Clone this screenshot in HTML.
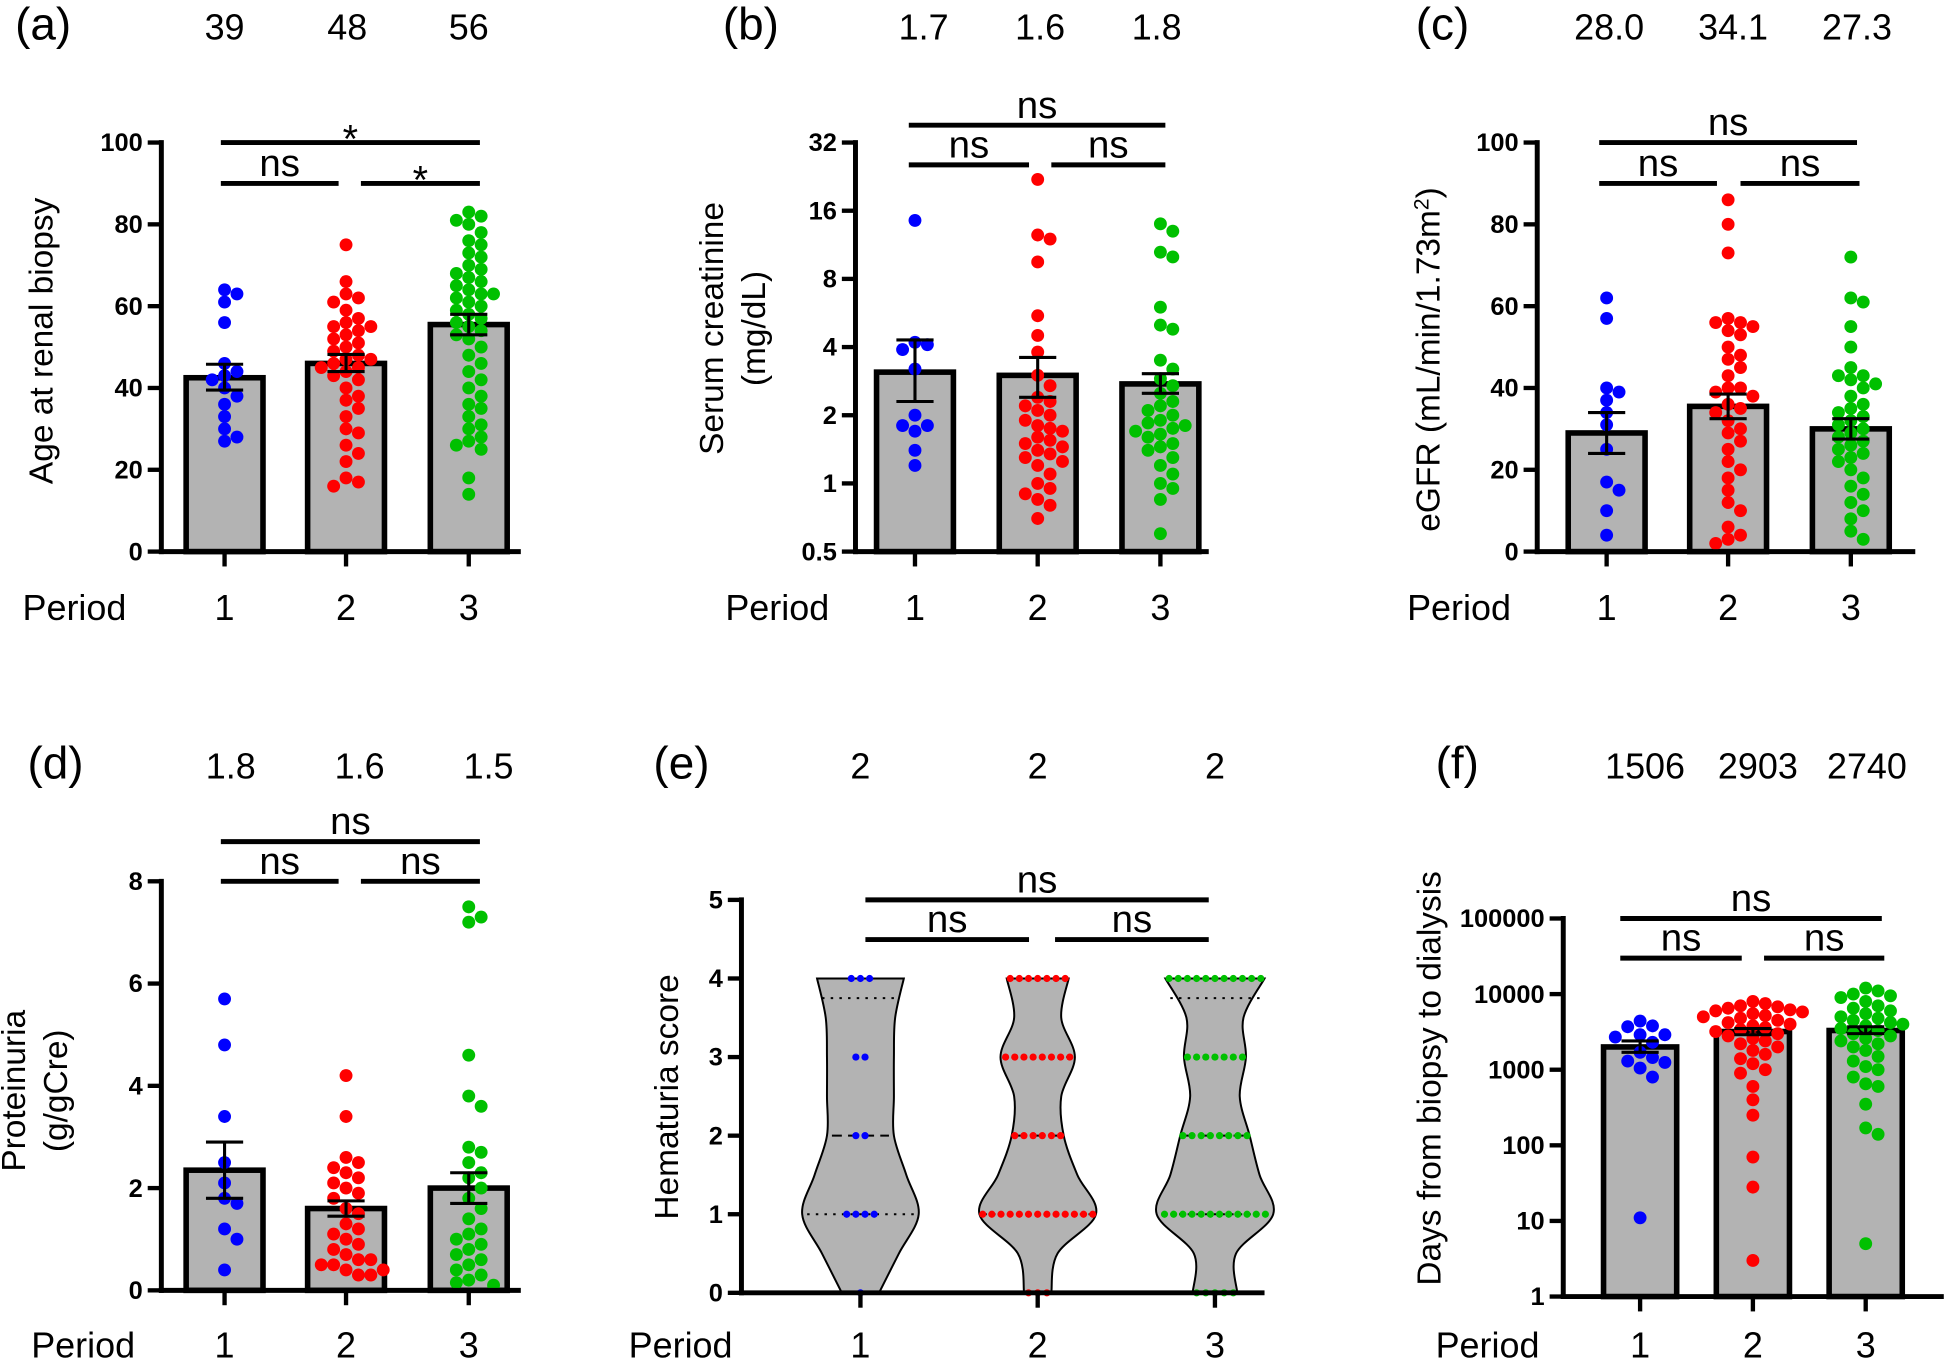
<!DOCTYPE html>
<html><head><meta charset="utf-8">
<style>
html,body{margin:0;padding:0;background:#fff;}
svg{display:block;font-family:"Liberation Sans",sans-serif;}
</style></head>
<body>
<svg id="fig" width="1944" height="1361" viewBox="0 0 1568 1098" xmlns="http://www.w3.org/2000/svg"></svg>
<script>
// ---------- data ----------
const periods = ["1","2","3"];
// (a) age
const ageTop = ["39","48","56"];
const ageP1 = [64,63,61,56,46,44,43,42,40,38,36,33,30,28,27];
const ageP2 = [75,66,63,62,61,59,57,56,55,55,54,53,52,51,50,49,48,47,47,46,45,45,44,43,42,40,38,37,35,33,30,29,26,24,22,18,17,16];
const ageP3 = [83,82,81,80,78,76,75,73,72,70,69,68,67,66,65,64,63,63,62,61,60,59,58,57,56,55,54,53,52,50,48,46,44,42,40,38,36,35,33,31,30,28,27,26,25,18,14];
const ageMean = [42.5,46,55.5];
const ageLo = [39.5,44,53];
const ageHi = [45.8,48.2,58];
// (b) creatinine
const crTop = ["1.7","1.6","1.8"];
const crP1 = [14.5,4.2,4.1,3.9,3.2,2.0,1.8,1.8,1.7,1.4,1.2];
const crP2 = [22,12.5,12,9.5,5.5,4.5,3.8,3.0,2.7,2.4,2.3,2.2,2.1,2.0,1.9,1.8,1.75,1.7,1.6,1.55,1.5,1.45,1.4,1.35,1.3,1.25,1.2,1.1,1.0,0.95,0.9,0.85,0.8,0.7];
const crP3 = [14,13,10.5,10,6,5,4.8,3.5,3.2,2.9,2.7,2.5,2.3,2.2,2.1,2.0,1.9,1.85,1.8,1.75,1.7,1.65,1.6,1.5,1.45,1.4,1.3,1.2,1.1,1.0,0.95,0.85,0.6];
const crMean = [3.1,3.0,2.75];
const crLo = [2.3,2.4,2.5];
const crHi = [4.3,3.6,3.05];
// (c) eGFR
const egTop = ["28.0","34.1","27.3"];
const egP1 = [62,57,40,39,37,34,31,25,17,15,10,4];
const egP2 = [86,80,73,57,56,56,55,54,53,50,48,47,45,43,40,40,39,38,36,35,34,32,30,29,27,25,22,20,18,15,12,10,6,4,3,2];
const egP3 = [72,62,61,55,50,45,43,43,42,41,40,38,36,35,34,33,32,31,30,29,28,27,26,25,24,23,22,20,18,16,14,12,10,8,5,3];
const egMean = [29,35.5,30];
const egLo = [24,32.5,27.5];
const egHi = [34,38.5,32.5];
// (d) proteinuria
const prTop = ["1.8","1.6","1.5"];
const prP1 = [5.7,4.8,3.4,2.5,2.1,1.8,1.7,1.2,1.0,0.4];
const prP2 = [4.2,3.4,2.6,2.5,2.4,2.3,2.2,2.1,2.0,1.9,1.8,1.6,1.5,1.3,1.2,1.1,1.0,0.9,0.8,0.7,0.6,0.6,0.5,0.5,0.4,0.4,0.3,0.3];
const prP3 = [7.5,7.3,7.2,4.6,3.8,3.6,2.8,2.7,2.5,2.3,2.2,2.0,1.8,1.6,1.4,1.2,1.1,1.0,0.9,0.8,0.7,0.6,0.5,0.4,0.3,0.2,0.15,0.1];
const prMean = [2.35,1.6,2.0];
const prLo = [1.8,1.45,1.7];
const prHi = [2.9,1.75,2.3];
// (e) hematuria (counts per score 0..4)
const heTop = ["2","2","2"];
const heLevels = [0,1,2,3,4];
const heCount1 = [1,4,2,2,3];
const heCount2 = [3,13,6,8,7];
const heCount3 = [5,12,8,7,11];
const heWidthLevels = [0,0.5,1,1.5,2,2.5,3,3.5,4];
const heWidth1 = [15,31,47,37,27,27,27,28,35];
const heWidth2 = [11,16,47,32,21,19,30,19,25];
const heWidth3 = [18,17,47,36,28,20,25,23,40];
const heMedian = [2,2,2];
const heQ1 = [1,1,1];
const heQ3 = [3.75,3,3.75];
// (f) days to dialysis
const dyTop = ["1506","2903","2740"];
const dyP1 = [4400,3800,3700,2900,2900,2700,2300,1700,1450,1300,1250,1050,800,11];
const dyP2 = [8000,7500,7000,6800,6500,6200,6000,5800,5500,5200,5000,4800,4500,4200,4000,3800,3600,3400,3200,3000,2800,2600,2400,2200,2000,1800,1600,1400,1200,1000,900,600,400,250,70,28,3];
const dyP3 = [12000,11000,10000,9500,9000,8000,7000,6500,6000,5500,5000,4800,4500,4200,4000,3800,3500,3300,3000,2800,2600,2400,2200,2000,1800,1500,1300,1100,1000,800,650,600,350,170,140,5];
const dyMean = [2000,3200,3300];
const dyLo = [1700,2900,3000];
const dyHi = [2400,3500,3700];

const colors = ["#0000ff","#ff0000","#00c000"];
const NS = "http://www.w3.org/2000/svg";
const svg = document.getElementById("fig");

function mk(tag, attrs, parent, text){
  const e = document.createElementNS(NS, tag);
  for (const k in attrs) e.setAttribute(k, attrs[k]);
  if (text !== undefined) e.textContent = text;
  (parent || svg).appendChild(e);
  return e;
}
function line(x1,y1,x2,y2,w,parent,dash){
  const l = mk("line",{x1,y1,x2,y2,stroke:"#000","stroke-width":w},parent);
  if (dash) l.setAttribute("stroke-dasharray",dash);
  return l;
}

function panel(o){
  const g = mk("g",{});
  
  
  const y = o.scale;
  const lab = mk("text",{x:o.labX,y:o.topY,"font-size":37},g,o.label);
  
  
  o.top.forEach((t,i)=>{
    const tt = mk("text",{x:o.topX[i],y:o.topY,"font-size":29,"text-anchor":"middle"},g,t);
    
    
  });
  if (o.bars) {
    o.means.forEach((m,i)=>{
      const cx = o.cx[i], bw = o.bw;
      const r = mk("rect",{x:cx-bw/2,y:y(m),width:bw,height:o.yBot-y(m),fill:"#b3b3b3",stroke:"#000","stroke-width":4.5},g);
      
      
    });
  }
  if (o.violin) o.violin(g);
  if (o.series) {
    o.series.forEach((vals,i)=>{
      const placed=[]; const R=5.2, d=10;
      vals.forEach(v=>{
        const py = y(v); let px = o.cx[i];
        for (let k=0;k<40;k++){
          const off = (k===0)?0:(Math.ceil(k/2)*d*(k%2?1:-1));
          const cand = o.cx[i]+off;
          if (placed.every(p=>Math.hypot(p[0]-cand,p[1]-py)>=1.75*R)){px=cand;break;}
        }
        placed.push([px,py]);
        const c = mk("circle",{cx:px,cy:py,r:R,fill:colors[i]},g);
        
        
      });
    });
  }
  if (o.bars) {
    o.means.forEach((m,i)=>{
      const cx=o.cx[i];
      line(cx,y(o.lo[i]),cx,y(o.hi[i]),2.5,g);
      line(cx-15,y(o.hi[i]),cx+15,y(o.hi[i]),2.5,g);
      line(cx-15,y(o.lo[i]),cx+15,y(o.lo[i]),2.5,g);
    });
  }
  const ax = mk("g",{},g);
  
  
  line(o.axX,o.yTop-2,o.axX,o.yBot+2,4,ax);
  o.ticks.forEach((t,i)=>{
    const ty=y(t);
    line(o.axX-11,ty,o.axX,ty,3.5,ax);
    const tl = mk("text",{x:o.axX-15,y:ty+7,"font-size":20.5,"font-weight":"bold","text-anchor":"end"},ax,o.tickLabels[i]);
    
    
  });
  const xa = mk("g",{},g);
  
  
  line(o.axX-2,o.yBot,o.xEnd,o.yBot,4,xa);
  o.cx.forEach((cx,i)=>{
    line(cx,o.yBot,cx,o.yBot+12,3.5,xa);
    const xl = mk("text",{x:cx,y:o.perY,"font-size":29,"text-anchor":"middle"},xa,periods[i]);
    
    
  });
  const pl = mk("text",{x:o.perX,y:o.perY,"font-size":29},xa,"Period");
  
  
  o.yTitle.forEach((t,i)=>{
    const yt = mk("text",{x:0,y:0,"font-size":27,"text-anchor":"middle",transform:`translate(${o.yTitleX[i]},${o.yTitleY}) rotate(-90)`},g);
    yt.innerHTML = t;
    
    
  });
  o.brackets.forEach(b=>{
    const bg = mk("g",{},g);
    
    
    line(b[0],b[2],b[1],b[2],4,bg);
    mk("text",{x:(b[0]+b[1])/2,y:b[2]-(b[3]==="*"?-8:6),"font-size":b[3]==="*"?32:31,"text-anchor":"middle"},bg,b[3]);
  });
}

function lin(v0,v1,p0,p1){return v=>p0+(v-v0)/(v1-v0)*(p1-p0);}
function logs(base,v0,v1,p0,p1){const L=Math.log(base);return v=>p0+(Math.log(v)/L-Math.log(v0)/L)/(Math.log(v1)/L-Math.log(v0)/L)*(p1-p0);}

panel({name:"panel-a-age",label:"(a)",labX:12,topY:32,top:ageTop,topX:[181,280,378],
  bars:true,means:ageMean,lo:ageLo,hi:ageHi,series:[ageP1,ageP2,ageP3],cx:[181,279,378],bw:62,
  scale:lin(0,100,445,115),yTop:115,yBot:445,axX:130,xEnd:420,ticks:[0,20,40,60,80,100],tickLabels:["0","20","40","60","80","100"],
  perX:18,perY:500,yTitle:["Age at renal biopsy"],yTitleX:[42],yTitleY:275,
  brackets:[[178,387,115,"*"],[178,273,148,"ns"],[291,387,148,"*"]]});
panel({name:"panel-b-creatinine",label:"(b)",labX:583,topY:32,top:crTop,topX:[745,839,933],
  bars:true,means:crMean,lo:crLo,hi:crHi,series:[crP1,crP2,crP3],cx:[738,837,936],bw:62,
  scale:logs(2,0.5,32,445,115),yTop:115,yBot:445,axX:690,xEnd:975,ticks:[0.5,1,2,4,8,16,32],tickLabels:["0.5","1","2","4","8","16","32"],
  perX:585,perY:500,yTitle:["Serum creatinine","(mg/dL)"],yTitleX:[583,617],yTitleY:265,
  brackets:[[733,940,101,"ns"],[733,830,133,"ns"],[848,940,133,"ns"]]});
panel({name:"panel-c-egfr",label:"(c)",labX:1142,topY:32,top:egTop,topX:[1298,1398,1498],
  bars:true,means:egMean,lo:egLo,hi:egHi,series:[egP1,egP2,egP3],cx:[1296,1394,1493],bw:62,
  scale:lin(0,100,445,115),yTop:115,yBot:445,axX:1240,xEnd:1545,ticks:[0,20,40,60,80,100],tickLabels:["0","20","40","60","80","100"],
  perX:1135,perY:500,yTitle:['eGFR (mL/min/1.73m<tspan baseline-shift="super" font-size="17">2</tspan>)'],yTitleX:[1161],yTitleY:290,
  brackets:[[1290,1498,115,"ns"],[1290,1385,148,"ns"],[1404,1500,148,"ns"]]});
panel({name:"panel-d-proteinuria",label:"(d)",labX:22,topY:628,top:prTop,topX:[186,290,394],
  bars:true,means:prMean,lo:prLo,hi:prHi,series:[prP1,prP2,prP3],cx:[181,279,378],bw:62,
  scale:lin(0,8,1041,711),yTop:711,yBot:1041,axX:130,xEnd:420,ticks:[0,2,4,6,8],tickLabels:["0","2","4","6","8"],
  perX:25,perY:1095,yTitle:["Proteinuria","(g/gCre)"],yTitleX:[20,54],yTitleY:880,
  brackets:[[178,387,679,"ns"],[178,273,711,"ns"],[291,387,711,"ns"]]});
const eScale = lin(0,5,1043,726);
const eCx=[694,837,980];
panel({name:"panel-e-hematuria",label:"(e)",labX:527,topY:628,top:heTop,topX:[694,837,980],
  bars:false,cx:eCx,
  violin:(g)=>{
    const widths=[heWidth1,heWidth2,heWidth3], counts=[heCount1,heCount2,heCount3];
    widths.forEach((w,i)=>{
      const cx=eCx[i];
      const pts = heWidthLevels.map((lv,k)=>[cx+w[k],eScale(lv)]);
      let d=`M${cx-w[0]},${pts[0][1]} L${pts[0][0]},${pts[0][1]}`;
      for(let k=0;k<pts.length-1;k++){
        const p0=pts[Math.max(0,k-1)],p1=pts[k],p2=pts[k+1],p3=pts[Math.min(pts.length-1,k+2)];
        d+=` C${p1[0]+(p2[0]-p0[0])/6},${p1[1]+(p2[1]-p0[1])/6} ${p2[0]-(p3[0]-p1[0])/6},${p2[1]-(p3[1]-p1[1])/6} ${p2[0]},${p2[1]}`;
      }
      const n=pts.length-1;
      d+=` L${2*cx-pts[n][0]},${pts[n][1]}`;
      const lp=pts.map(p=>[2*cx-p[0],p[1]]).reverse();
      for(let k=0;k<lp.length-1;k++){
        const p0=lp[Math.max(0,k-1)],p1=lp[k],p2=lp[k+1],p3=lp[Math.min(lp.length-1,k+2)];
        d+=` C${p1[0]+(p2[0]-p0[0])/6},${p1[1]+(p2[1]-p0[1])/6} ${p2[0]-(p3[0]-p1[0])/6},${p2[1]-(p3[1]-p1[1])/6} ${p2[0]},${p2[1]}`;
      }
      d+=" Z";
      const v = mk("path",{d,fill:"#b3b3b3",stroke:"#000","stroke-width":1.6},g);
      
      
      const hw = lv=>{let k=Math.round(lv*2);return w[Math.min(k,w.length-1)]-4;};
      [[heQ1[i],"2,5"],[heMedian[i],"8,5"],[heQ3[i],"2,5"]].forEach(q=>{
        line(cx-hw(q[0]),eScale(q[0]),cx+hw(q[0]),eScale(q[0]),1.6,g,q[1]);
      });
      heLevels.forEach((lv,k)=>{
        const c=counts[i][k];
        for(let j=0;j<c;j++){
          const dot = mk("circle",{cx:cx+(j-(c-1)/2)*7.4,cy:eScale(lv),r:2.9,fill:colors[i]},g);
          
          
        }
      });
    });
  },
  scale:eScale,yTop:726,yBot:1043,axX:598,xEnd:1020,ticks:[0,1,2,3,4,5],tickLabels:["0","1","2","3","4","5"],
  perX:507,perY:1095,yTitle:["Hematuria score"],yTitleX:[547],yTitleY:885,
  brackets:[[698,975,726,"ns"],[698,830,758,"ns"],[851,975,758,"ns"]]});
panel({name:"panel-f-days",label:"(f)",labX:1158,topY:628,top:dyTop,topX:[1327,1418,1506],
  bars:true,means:dyMean,lo:dyLo,hi:dyHi,series:[dyP1,dyP2,dyP3],cx:[1323,1414,1505],bw:59,
  scale:logs(10,1,100000,1046,741),yTop:741,yBot:1046,axX:1261,xEnd:1568,ticks:[1,10,100,1000,10000,100000],tickLabels:["1","10","100","1000","10000","100000"],
  perX:1158,perY:1095,yTitle:["Days from biopsy to dialysis"],yTitleX:[1162],yTitleY:870,
  brackets:[[1307,1518,741,"ns"],[1307,1405,773,"ns"],[1423,1520,773,"ns"]]});
</script>
</body></html>
